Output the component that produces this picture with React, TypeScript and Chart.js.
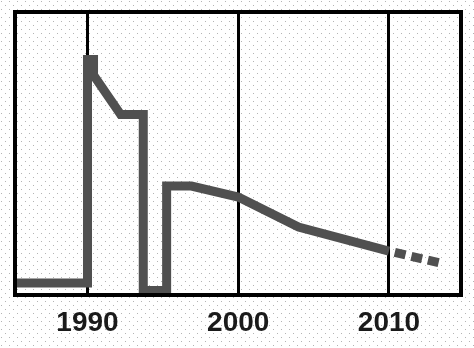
import React, { useEffect, useRef } from "react";
import { Chart, registerables } from "chart.js";

Chart.register(...registerables);

const years = [1985.2, 1990, 1990, 1990.4, 1990.4, 1992.2, 1993.7, 1993.7, 1995.25, 1995.25, 1996.9, 2000, 2004, 2010, 2013.4];
const values = [4.2, 4.2, 83.2, 83.2, 77.7, 63.8, 63.8, 1.6, 1.6, 38.5, 38.5, 34.6, 24.0, 15.5, 11.3];
const tickYears = [1990, 2000, 2010];
const xMin = 1985.19;
const xMax = 2014.78;
const yMin = 0;
const yMax = 100;

export default function App() {
  const ref = useRef<HTMLCanvasElement>(null);

  useEffect(() => {
    if (!ref.current) return;
    const bg = {
      id: "bgDots",
      beforeDraw(chart: any) {
        const { ctx, width, height } = chart;
        ctx.save();
        ctx.fillStyle = "#ffffff";
        ctx.fillRect(0, 0, width, height);
        ctx.fillStyle = "#b4b4b4";
        let r = 0;
        for (let y = 1; y < height; y += 4, r++) {
          for (let x = (r % 2) * 4 + 1; x < width; x += 8) ctx.fillRect(x, y, 1, 1);
        }
        ctx.restore();
      },
    };
    const frame = {
      id: "frame",
      afterDraw(chart: any) {
        const { ctx, chartArea: a } = chart;
        ctx.save();
        ctx.strokeStyle = "#000";
        ctx.lineWidth = 4;
        ctx.strokeRect(a.left, a.top, a.right - a.left, a.bottom - a.top);
        ctx.restore();
      },
    };
    const last = years.length - 2;
    const chart = new Chart(ref.current, {
      type: "line",
      data: {
        datasets: [
          {
            data: years.map((x, i) => ({ x, y: values[i] })),
            borderColor: "#505050",
            borderWidth: 9,
            borderJoinStyle: "miter",
            borderCapStyle: "butt",
            pointRadius: 0,
            tension: 0,
            fill: false,
            segment: {
              borderDash: (c: any) => (c.p0DataIndex === last ? [11, 6] : undefined),
              borderDashOffset: (c: any) => (c.p0DataIndex === last ? 11 : undefined),
            },
          },
        ],
      },
      options: {
        animation: false,
        responsive: true,
        maintainAspectRatio: false,
        layout: { padding: { left: 15, right: 13, top: 12, bottom: 0 } },
        plugins: { legend: { display: false }, tooltip: { enabled: false } },
        scales: {
          x: {
            type: "linear",
            min: xMin,
            max: xMax,
            afterBuildTicks: (axis: any) => {
              axis.ticks = tickYears.map((v) => ({ value: v }));
            },
            grid: { color: "#000", lineWidth: 3, drawTicks: false },
            border: { display: false },
            ticks: {
              padding: 14,
              color: "#1a1a1a",
              font: { family: "'Liberation Sans', Arial, sans-serif", size: 28, weight: "bold", lineHeight: 1.0 },
              callback: (v: any) => String(v),
              maxRotation: 0,
            },
          },
          y: { display: false, min: yMin, max: yMax },
        },
      },
      plugins: [bg, frame],
    });
    return () => chart.destroy();
  }, []);

  return (
    <div style={{ position: "absolute", left: 0, top: 0, width: 474, height: 348, overflow: "hidden" }}>
      <div style={{ position: "relative", width: 474, height: 351 }}>
        <canvas ref={ref} />
      </div>
    </div>
  );
}
